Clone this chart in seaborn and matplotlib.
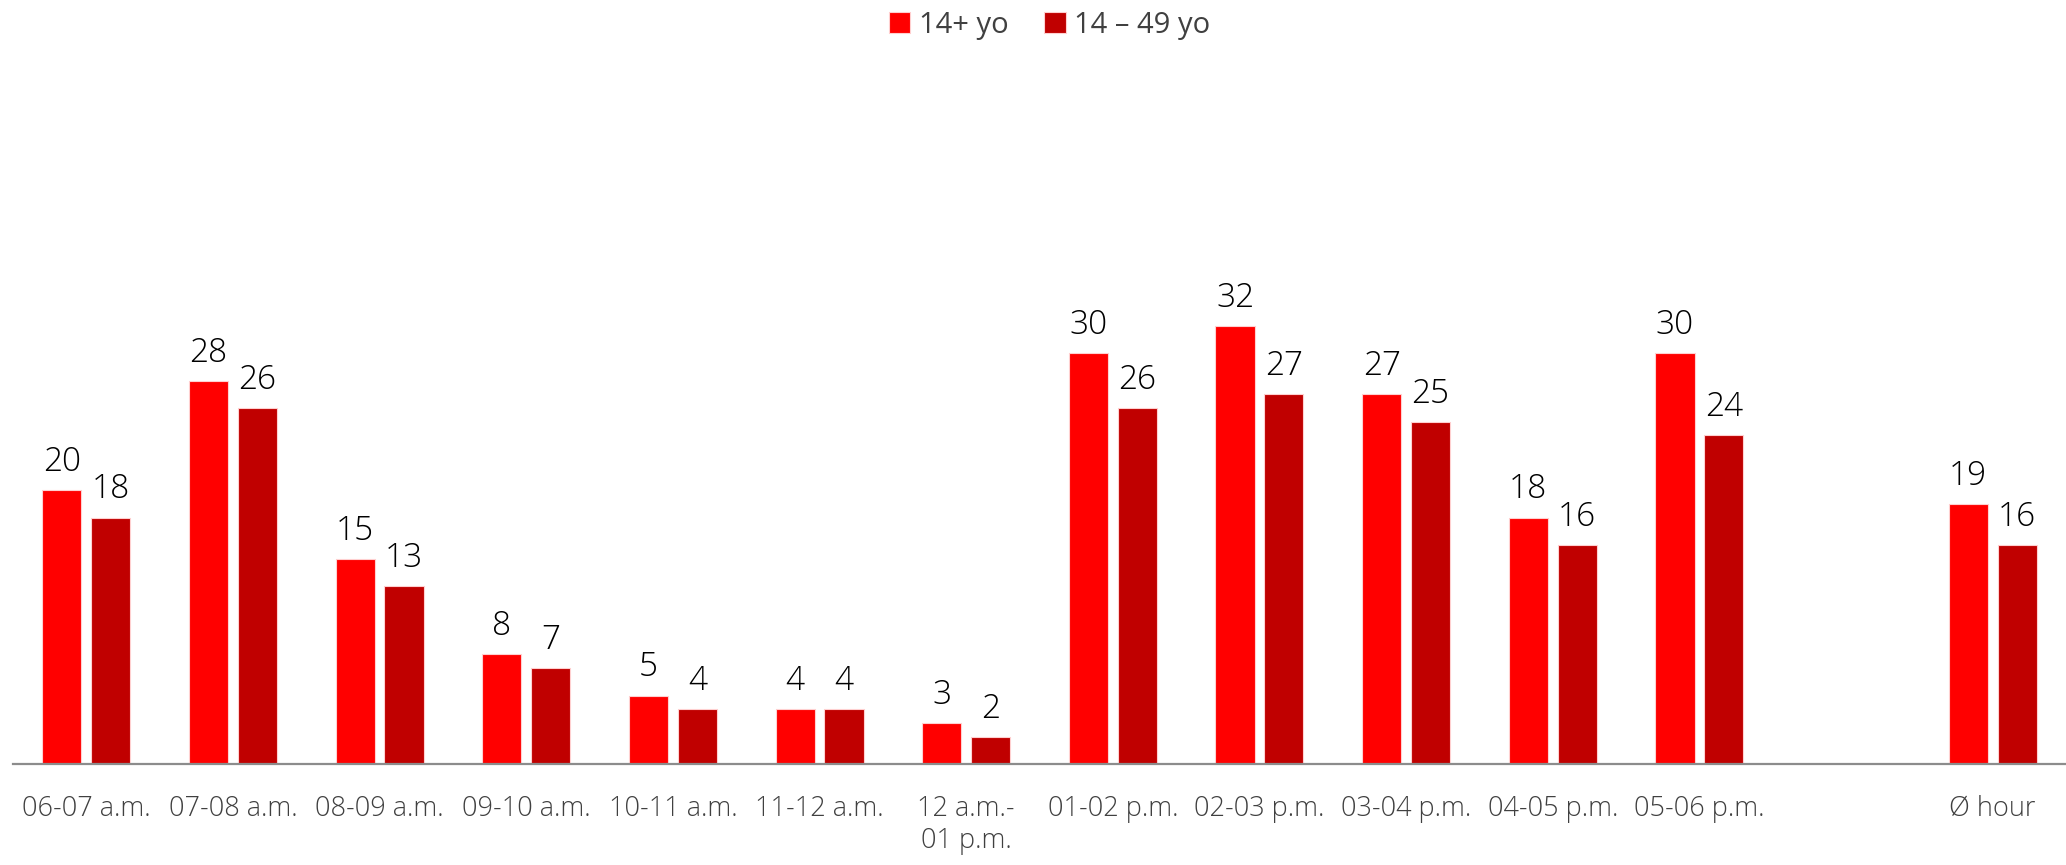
import pandas as pd
import numpy as np
import matplotlib
matplotlib.use("Agg")
import matplotlib.pyplot as plt
import seaborn as sns

# Daten
slots = ["06-07 a.m.", "07-08 a.m.", "08-09 a.m.", "09-10 a.m.", "10-11 a.m.",
         "11-12 a.m.", "12 a.m.-\n01 p.m.", "01-02 p.m.", "02-03 p.m.",
         "03-04 p.m.", "04-05 p.m.", "05-06 p.m.", " ", "Ø hour"]
age_all = [20, 28, 15, 8, 5, 4, 3, 30, 32, 27, 18, 30, np.nan, 19]
age_14_49 = [18, 26, 13, 7, 4, 4, 2, 26, 27, 25, 16, 24, np.nan, 16]
groups = ["14+ yo", "14 – 49 yo"]
colors = ["#FF0000", "#C00000"]

df = pd.DataFrame({
    "slot": slots * 2,
    "value": age_all + age_14_49,
    "group": [groups[0]] * len(slots) + [groups[1]] * len(slots),
}).dropna()

sns.set_style("white")
plt.rcParams["font.family"] = ["Open Sans", "DejaVu Sans"]

fig = plt.figure(figsize=(20.66, 8.65), dpi=100)
ax = fig.add_axes([13 / 2066, 1 - 764 / 865, 1 - 13 / 2066, 764 / 865])

sns.barplot(data=df, x="slot", y="value", hue="group", order=slots,
            hue_order=groups, palette=colors, saturation=1, width=0.667,
            gap=0.2, edgecolor="#ffd0d0", linewidth=0.8, legend=True, ax=ax)

for cont in ax.containers:
    ax.bar_label(cont, fmt="%.0f", padding=8, fontsize=24, color="black",
                 fontweight="light")

ax.set_xlim(-0.5, 13.5)
ax.set_ylim(0, 55.8)
ax.set_xlabel("")
ax.set_ylabel("")
ax.set_yticks([])
ax.tick_params(axis="x", length=0, pad=22, labelsize=19.5, labelcolor="#404040")
for lbl in ax.get_xticklabels():
    lbl.set_fontweight("light")

for side in ["top", "right", "left"]:
    ax.spines[side].set_visible(False)
ax.spines["bottom"].set_color("#8c8c8c")
ax.spines["bottom"].set_linewidth(1.6)

handles, labels = ax.get_legend_handles_labels()
ax.get_legend().remove()
fig.legend(handles, labels, loc="upper center", bbox_to_anchor=(0.508, 1.018),
           ncol=2, frameon=False, fontsize=21, handlelength=0.75,
           handleheight=0.75, handletextpad=0.3, columnspacing=1.2,
           labelcolor="#404040")

fig.savefig("out.png", dpi=100)
